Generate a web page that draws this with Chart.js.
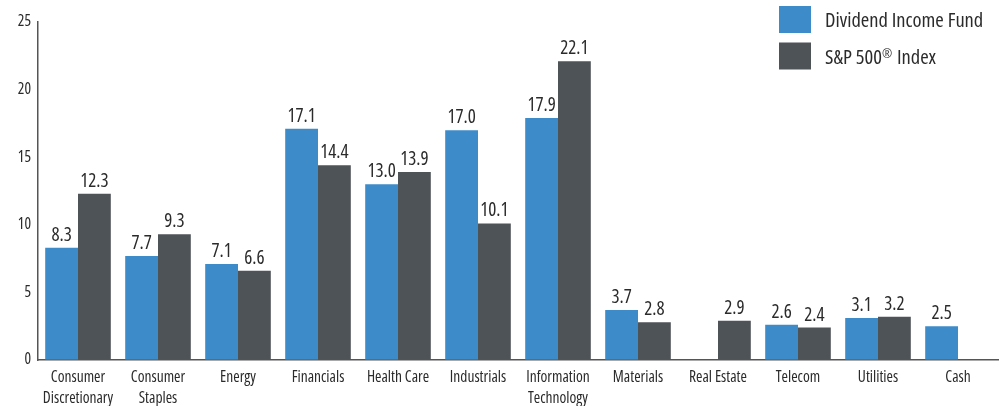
<!DOCTYPE html>
<html>
<head>
<meta charset="utf-8">
<script src="https://cdn.jsdelivr.net/npm/chart.js@4"></script>
<style>
  html, body { margin: 0; padding: 0; background: #fff; }
  #wrap { width: 1003px; height: 406px; }
</style>
</head>
<body>
<div id="wrap"><canvas id="myChart"></canvas></div>
<script>
const ctx = document.getElementById('myChart')

const setores = [
  ['Consumer', 'Discretionary'], ['Consumer', 'Staples'], 'Energy', 'Financials',
  'Health Care', 'Industrials', ['Information', 'Technology'], 'Materials',
  'Real Estate', 'Telecom', 'Utilities', 'Cash'
]
const fundo = [8.3, 7.7, 7.1, 17.1, 13.0, 17.0, 17.9, 3.7, null, 2.6, 3.1, 2.5]
const sp500 = [12.3, 9.3, 6.6, 14.4, 13.9, 10.1, 22.1, 2.8, 2.9, 2.4, 3.2, null]
const yTicks = [0, 5, 10, 15, 20, 25]

// Open Sans has a width axis, "semi-condensed" goes in the weight slot of the font string
const fonte = "'Open Sans', 'DejaVu Sans Condensed', sans-serif"
const estreita = 'semi-condensed'
const corTexto = '#2b2b2b'
const azul = '#3e8bca'
const cinza = '#4e5358'

// numbers above each bar
const rotulos = {
  id: 'rotulos',
  afterDatasetsDraw(chart) {
    const c = chart.ctx
    c.save()
    c.font = estreita + ' 19px ' + fonte
    c.fillStyle = corTexto
    c.textAlign = 'center'
    c.textBaseline = 'alphabetic'
    chart.data.datasets.forEach((ds, i) => {
      chart.getDatasetMeta(i).data.forEach((bar, j) => {
        const v = ds.data[j]
        if (v === null || v === undefined) return
        c.fillText(v.toFixed(1), bar.x, bar.y - 7)
      })
    })
    c.restore()
  }
}

// legend box in the top right corner, with the ® set small and raised
const legenda = {
  id: 'legenda',
  afterDraw(chart) {
    const c = chart.ctx
    const tam = 20.5
    c.save()
    c.textBaseline = 'alphabetic'
    chart.data.datasets.forEach((ds, i) => {
      const y = 6 + i * 36.5
      c.fillStyle = ds.backgroundColor
      c.fillRect(779, y, 32, 27)
      c.fillStyle = corTexto
      let x = 825
      const base = y + 21
      ds.label.split(/(®)/).forEach(parte => {
        if (!parte) return
        const sup = parte === '®'
        c.font = estreita + ' ' + (sup ? tam * 0.6 : tam) + 'px ' + fonte
        c.fillText(parte, x, sup ? base - 6 : base)
        x += c.measureText(parte).width + (sup ? 1 : 0)
      })
    })
    c.restore()
  }
}

new Chart(ctx, {
  type: 'bar',
  data: {
    labels: setores,
    datasets: [
      {
        label: 'Dividend Income Fund',
        data: fundo,
        backgroundColor: azul,
        categoryPercentage: 0.82,
        barPercentage: 1,
      },
      {
        label: 'S&P 500® Index',
        data: sp500,
        backgroundColor: cinza,
        categoryPercentage: 0.82,
        barPercentage: 1,
      },
    ],
  },
  options: {
    responsive: true,
    maintainAspectRatio: false,
    animation: false,
    layout: { padding: { top: 22, right: 5, left: 0, bottom: 0 } },
    plugins: {
      legend: { display: false },
      tooltip: { enabled: false },
    },
    scales: {
      x: {
        grid: { drawOnChartArea: false, drawTicks: false },
        border: { display: true, color: '#555', width: 1.5 },
        ticks: {
          color: corTexto,
          font: { family: fonte, weight: estreita, size: 15.5, lineHeight: 1.35 },
          padding: 7,
          maxRotation: 0,
          autoSkip: false,
        },
        afterFit(scale) { scale.height = 46 },
      },
      y: {
        min: 0,
        max: 25,
        afterBuildTicks(scale) { scale.ticks = yTicks.map(v => ({ value: v })) },
        grid: { drawOnChartArea: false, drawTicks: false },
        border: { display: true, color: '#555', width: 1.5 },
        ticks: {
          color: corTexto,
          font: { family: fonte, weight: estreita, size: 15.5 },
          padding: 7,
        },
        afterFit(scale) { scale.width = 38 },
      },
    },
  },
  plugins: [rotulos, legenda],
})
</script>
</body>
</html>
